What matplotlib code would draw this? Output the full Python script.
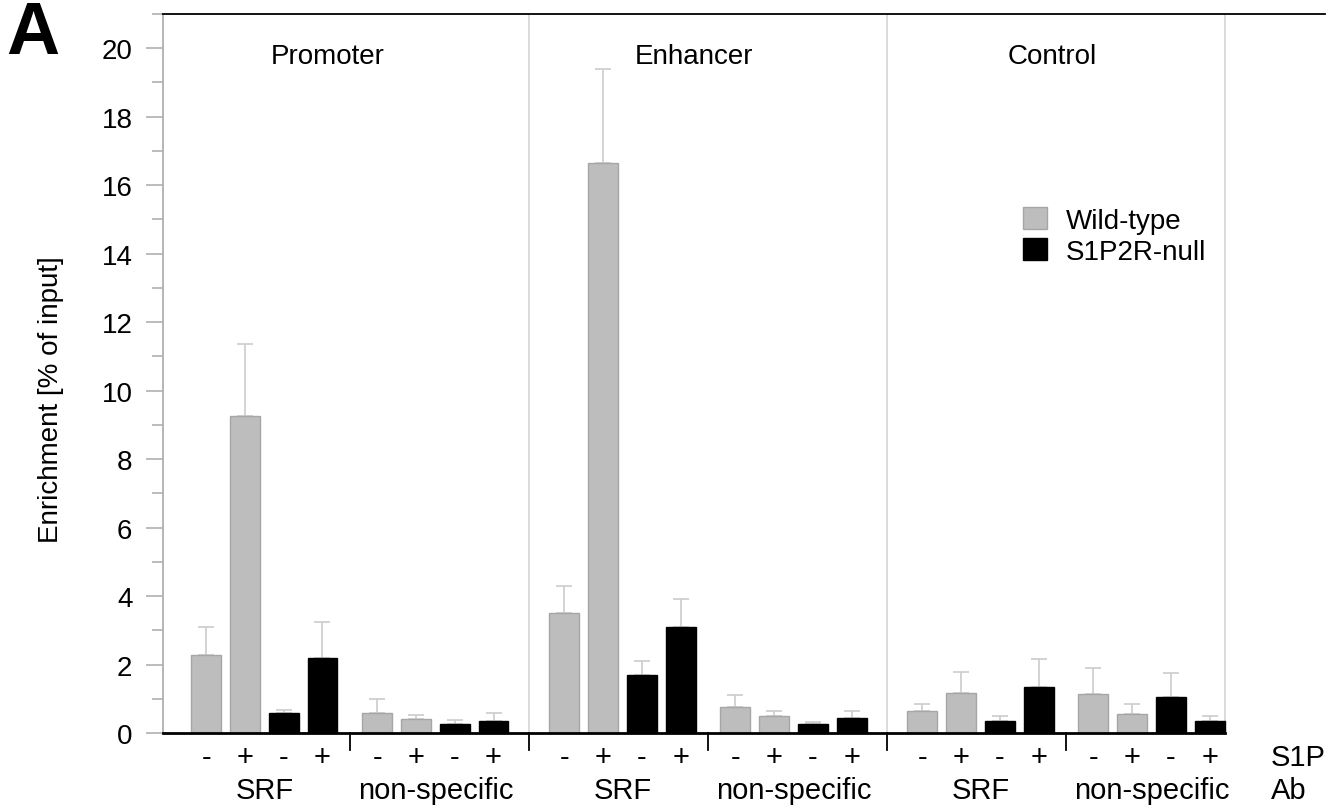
import numpy as np
import matplotlib.pyplot as plt
from matplotlib.patches import Patch

plt.rcParams['font.family'] = ['Liberation Sans', 'DejaVu Sans']

regions = ['Promoter', 'Enhancer', 'Control']
antibodies = ['SRF', 'non-specific']
s1p = ['-', '+']

# means / SEM, ordered region -> antibody -> S1P (-, +)
wt_mean = [2.28, 9.25, 0.59, 0.40, 3.51, 16.64, 0.76, 0.49, 0.64, 1.16, 1.13, 0.55]
wt_err = [0.82, 2.11, 0.41, 0.14, 0.77, 2.74, 0.34, 0.14, 0.22, 0.62, 0.76, 0.30]
null_mean = [0.58, 2.20, 0.26, 0.36, 1.68, 3.10, 0.26, 0.44, 0.36, 1.34, 1.05, 0.34]
null_err = [0.10, 1.04, 0.12, 0.21, 0.42, 0.80, 0.07, 0.19, 0.13, 0.83, 0.69, 0.15]

gray = '#bdbdbd'
err_col = '#cccccc'

# layout in bar-spacing units
first = 1.11
panel_step = 9.23
group_step = 4.41
width = 0.77

wt_mean = np.array(wt_mean)
wt_err = np.array(wt_err)
null_mean = np.array(null_mean)
null_err = np.array(null_err)

n_groups = len(regions) * len(antibodies)
base = np.array([first + (k // 2) * panel_step + (k % 2) * group_step for k in range(n_groups)])
x_wt = np.ravel(np.column_stack([base, base + 1]))
x_null = np.ravel(np.column_stack([base + 2, base + 3]))

fig = plt.figure(figsize=(13.42, 8.12), dpi=100)
ax = fig.add_axes([163 / 1342, 78 / 812, 1162 / 1342, 719 / 812])

ax.errorbar(x_wt, wt_mean, yerr=[np.zeros_like(wt_err), wt_err], fmt='none',
            ecolor=err_col, elinewidth=1.2, capsize=5.5, capthick=1.2, zorder=1)
ax.errorbar(x_null, null_mean, yerr=[np.zeros_like(null_err), null_err], fmt='none',
            ecolor=err_col, elinewidth=1.2, capsize=5.5, capthick=1.2, zorder=1)
ax.bar(x_wt, wt_mean, width=width, color=gray, edgecolor='#a6a6a6', linewidth=1, zorder=2)
ax.bar(x_null, null_mean, width=width, color='black', edgecolor='black', linewidth=1, zorder=2)

x_right = base[-1] + 3 + width / 2 + 0.02
ax.set_xlim(0, 29.95)
ax.set_ylim(0, 21)

# panel separators
seps = [(base[1] + 3 + base[2]) / 2, (base[3] + 3 + base[4]) / 2, x_right]
for s in seps:
    ax.axvline(s, color='#d4d4d4', linewidth=1.2, zorder=0)

# short black marks under the axis between groups
marks = [(base[0] + 3 + base[1]) / 2, seps[0], (base[2] + 3 + base[3]) / 2, seps[1],
         (base[4] + 3 + base[5]) / 2]
for m in marks:
    ax.plot([m, m], [0, -0.5], color='black', linewidth=1.3, clip_on=False)

# S1P signs and antibody labels
for k in range(n_groups):
    for i, xs in enumerate([base[k], base[k] + 1, base[k] + 2, base[k] + 3]):
        ax.text(xs, -0.7, s1p[i % 2], ha='center', va='center', fontsize=21)
    ax.text(base[k] + 1.5, -1.67, antibodies[k % 2], ha='center', va='center', fontsize=21)
ax.text(28.55, -0.7, 'S1P', ha='left', va='center', fontsize=21)
ax.text(28.55, -1.67, 'Ab', ha='left', va='center', fontsize=21)

# region titles
panel_left = [0, seps[0], seps[1]]
for p, name in enumerate(regions):
    ax.text(panel_left[p] + 4.25, 19.78, name, ha='center', va='center', fontsize=20)

ax.spines['right'].set_visible(False)
ax.spines['top'].set_color('black')
ax.spines['top'].set_linewidth(1.3)
ax.spines['left'].set_color('#b0b0b0')
ax.spines['left'].set_linewidth(1.3)
ax.spines['bottom'].set_color('black')
ax.spines['bottom'].set_linewidth(2)
ax.spines['bottom'].set_bounds(0, x_right)

ax.set_xticks([])
ax.set_yticks(np.arange(0, 21, 2))
ax.set_yticks(np.arange(1, 22, 2), minor=True)
ax.tick_params(axis='y', which='major', length=12, width=1.2, color='#b0b0b0',
               labelsize=20, pad=10)
ax.tick_params(axis='y', which='minor', length=8, width=1.2, color='#b0b0b0')

ax.set_ylabel('Enrichment [% of input]', fontsize=20)
ax.yaxis.set_label_coords(-0.085, 0.4645)

handles = [Patch(facecolor=gray, edgecolor='#a6a6a6', label='Wild-type'),
           Patch(facecolor='black', edgecolor='black', label='S1P2R-null')]
ax.legend(handles=handles, loc='upper left', bbox_to_anchor=(1023 / 1342, 1 - 208 / 812),
          bbox_transform=fig.transFigure, frameon=False, fontsize=20, borderpad=0,
          handlelength=0.86, handleheight=0.86, handletextpad=0.68, labelspacing=0.15,
          borderaxespad=0)

fig.text(33 / 1342, 1 - 34 / 812, 'A', fontsize=53, fontweight='bold', ha='center', va='center')

plt.savefig('out.png', dpi=100)
